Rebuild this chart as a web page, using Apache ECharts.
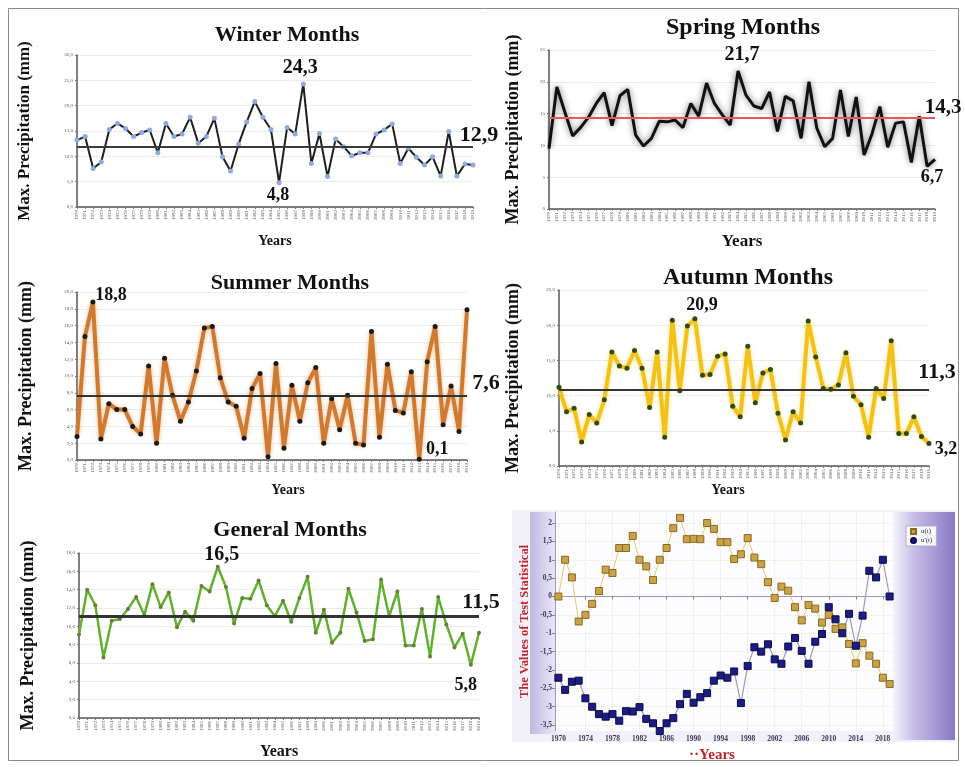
<!DOCTYPE html>
<html><head><meta charset="utf-8">
<script src="https://cdn.jsdelivr.net/npm/echarts@6/dist/echarts.min.js"></script>
<style>html,body{margin:0;padding:0;background:#fff}#c{width:965px;height:767px}</style>
</head><body><div id="c"></div>
<script>
// ---------- DATA ----------
const years = ['1970','1971','1972','1973','1974','1975','1976','1977','1978','1979',
 '1980','1981','1982','1983','1984','1985','1986','1987','1988','1989',
 '1990','1991','1992','1993','1994','1995','1996','1997','1998','1999',
 '2000','2001','2002','2003','2004','2005','2006','2007','2008','2009',
 '2010','2011','2012','2013','2014','2015','2016','2017','2018','2019'];

const winter = [13.2,13.9,7.6,8.9,15.3,16.5,15.5,13.9,14.7,15.2,
 10.7,16.5,13.9,14.4,17.7,12.6,13.9,17.5,9.9,7.1,
 12.4,16.8,20.8,17.7,15.3,4.8,15.7,14.4,24.3,8.6,
 14.5,6.0,13.4,11.9,10.1,10.7,10.7,14.4,15.2,16.4,
 8.6,11.6,9.8,8.3,9.9,6.1,14.9,6.1,8.5,8.3];
const spring = [9.5,19.2,15.3,11.5,12.8,14.4,16.6,18.3,13.1,17.8,
 18.8,11.6,9.9,11.1,13.8,13.7,14.0,12.8,16.6,14.6,
 19.8,16.6,14.8,13.2,21.7,17.9,16.2,15.8,18.4,12.2,
 17.7,17.0,11.1,20.0,12.7,9.8,11.1,18.7,11.4,17.6,
 8.5,11.8,16.1,9.7,13.5,13.7,7.3,14.6,6.7,7.8];
const summer = [2.8,14.7,18.8,2.5,6.7,6.0,6.0,4.0,3.1,11.2,
 2.0,12.1,7.7,4.6,6.9,10.6,15.7,15.9,9.8,6.9,
 6.4,2.6,8.5,10.3,0.4,11.5,1.4,8.9,4.6,9.2,
 11.0,2.0,7.3,3.6,7.7,2.0,1.8,15.3,2.7,11.4,
 5.9,5.6,10.5,0.1,11.7,15.9,4.2,8.8,3.4,17.9];
const autumn = [11.2,7.7,8.2,3.4,7.3,6.1,9.4,16.2,14.2,13.9,
 16.4,13.9,8.3,16.2,4.1,20.7,10.7,19.9,20.9,12.9,
 13.0,15.6,15.9,8.5,7.0,17.0,9.0,13.2,13.7,7.5,
 3.7,7.7,6.1,20.6,15.5,11.0,10.9,11.5,16.1,9.9,
 8.7,4.1,11.0,9.6,17.8,4.6,4.6,7.0,4.2,3.2];
const general = [9.1,14.0,12.3,6.6,10.6,10.8,11.9,13.2,11.2,14.6,
 12.1,13.7,9.9,11.6,10.6,14.4,13.8,16.5,14.3,10.3,
 13.1,13.0,15.0,12.3,11.1,12.8,10.5,13.1,15.4,9.3,
 11.8,8.2,9.3,14.1,11.5,8.4,8.6,15.1,11.1,13.8,
 7.9,7.9,11.9,6.7,13.2,10.2,7.7,9.2,5.8,9.3];

// mean reference lines (as drawn) and their printed labels
const meanLines = [11.8, 14.3, 7.6, 10.9, 11.1];
const meanLabels = ['12,9', '14,3', '7,6', '11,3', '11,5'];

// Mann-Kendall panel
const mkYears = [1970,1971,1972,1973,1974,1975,1976,1977,1978,1979,
 1980,1981,1982,1983,1984,1985,1986,1987,1988,1989,
 1990,1991,1992,1993,1994,1995,1996,1997,1998,1999,
 2000,2001,2002,2003,2004,2005,2006,2007,2008,2009,
 2010,2011,2012,2013,2014,2015,2016,2017,2018,2019];
const uT = [0.0,1.0,0.52,-0.68,-0.5,-0.2,0.15,0.73,0.64,1.32,
 1.32,1.65,1.0,0.82,0.45,1.0,1.32,1.86,2.14,1.56,
 1.57,1.56,2.0,1.84,1.48,1.48,1.02,1.15,1.59,1.06,
 0.88,0.39,-0.04,0.27,0.16,-0.29,-0.65,-0.23,-0.33,-0.71,
 -0.5,-0.88,-0.84,-1.29,-1.82,-1.27,-1.61,-1.83,-2.21,-2.38];
const uPrimeT = [-2.21,-2.54,-2.32,-2.29,-2.77,-3.0,-3.2,-3.27,-3.2,-3.38,
 -3.12,-3.13,-3.01,-3.33,-3.45,-3.66,-3.45,-3.31,-2.93,-2.65,
 -2.89,-2.74,-2.63,-2.29,-2.15,-2.21,-2.04,-2.9,-1.89,-1.38,
 -1.5,-1.3,-1.71,-1.83,-1.36,-1.13,-1.48,-1.83,-1.23,-1.02,
 -0.29,-0.62,-1.0,-0.47,-1.34,-0.52,0.7,0.52,1.0,0.0];
const mkXTicks = [1970,1974,1978,1982,1986,1990,1994,1998,2002,2006,2010,2014,2018];
const mkYTicks = [-3.5,-3,-2.5,-2,-1.5,-1,-0.5,0,0.5,1,1.5,2];

// ---------- CHART ----------
const SERIF = '"Liberation Serif", "Times New Roman", serif';
const comma = (v, d) => v.toFixed(d).replace('.', ',');

const panels = [
 { title:'Winter Months', tx:287, ty:35, tsize:22, data:winter,
   grid:{left:77, top:55, width:396, height:152}, yMax:30, yInt:5, dec:1,
   line:{color:'#1e1e1e', width:2}, sym:{size:5, color:'#8eaae0'},
   mean:{color:'#3a3a3a', width:2},
   yGap:44, ySize:17, xGap:27, xSize:14, xPad:[0,0,0,0],
   ann:{max:[-3,-16,20], min:[-1,13,18], mean:[6,-12,22]} },
 { title:'Spring Months', tx:743, ty:28, tsize:24, data:spring,
   grid:{left:549, top:50, width:386, height:159}, yMax:25, yInt:5, dec:0,
   line:{color:'#111', width:3, shadowColor:'rgba(0,0,0,0.55)', shadowBlur:6}, sym:null,
   mean:{color:'#e25a5a', width:2},
   yGap:27, ySize:18, xGap:24, xSize:17, xPad:[0,0,0,0],
   ann:{max:[4,-16,20], min:[5,11,18], mean:[8,-10,21]} },
 { title:'Summer Months', tx:290, ty:283, tsize:22, data:summer,
   grid:{left:77, top:292, width:390, height:168}, yMax:20, yInt:2, dec:1,
   line:{color:'#cf7a33', width:4, shadowColor:'rgba(235,150,70,0.6)', shadowBlur:4}, sym:{size:5, color:'#1a1a1a'},
   mean:{color:'#333', width:2},
   yGap:42, ySize:18, xGap:23, xSize:14, xPad:[0,0,0,32],
   ann:{max:[18,-7,18], min:[18,-10,18], mean:[19,-13,22]} },
 { title:'Autumn Months', tx:748, ty:278, tsize:24, data:autumn,
   grid:{left:559, top:290, width:370, height:176}, yMax:25, yInt:5, dec:1,
   line:{color:'#f2c21b', width:4, shadowColor:'rgba(250,210,60,0.6)', shadowBlur:4}, sym:{size:5, color:'#2f4a1a'},
   mean:{color:'#333', width:2},
   yGap:37, ySize:18, xGap:17, xSize:14, xPad:[0,32,0,0],
   ann:{max:[7,-14,18], min:[17,6,18], mean:[8,-17,22]} },
 { title:'General Months', tx:290, ty:530, tsize:22, data:general,
   grid:{left:79, top:553, width:400, height:165}, yMax:18, yInt:2, dec:1,
   line:{color:'#62b02f', width:2.5}, sym:{size:4, color:'#6b7d3a'},
   mean:{color:'#333', width:3},
   yGap:42, ySize:18, xGap:26, xSize:16, xPad:[0,0,0,0],
   ann:{max:[4,-12,20], min:[-5,21,18], mean:[2,-14,22]} }
];

const grids = [], xAxes = [], yAxes = [], series = [];
const graphics = [];

// MK panel backgrounds
graphics.push({type:'rect', z:-10, shape:{x:512, y:510, width:443, height:232}, style:{fill:'#f2f1fa'}});
graphics.push({type:'rect', z:-9, shape:{x:530, y:512, width:25, height:222},
  style:{fill:new echarts.graphic.LinearGradient(0,0,1,0,[{offset:0,color:'#bfb8e4'},{offset:1,color:'#e9e7f7'}])}});
graphics.push({type:'rect', z:-9, shape:{x:893, y:512, width:62, height:228},
  style:{fill:new echarts.graphic.LinearGradient(0,0,1,0,[{offset:0,color:'#f4f3fb'},{offset:0.35,color:'#c5bce6'},{offset:1,color:'#8877c6'}])}});
// outer frame
graphics.push({type:'rect', z:-20, shape:{x:8.5, y:8.5, width:950, height:752}, style:{fill:'none', stroke:'#8a8a8a', lineWidth:1}});

panels.forEach((p, i) => {
  grids.push(Object.assign({show:false, outerBoundsMode:'none', containLabel:false}, p.grid));
  graphics.push({type:'text', x:p.tx, y:p.ty, z:10,
    style:{text:p.title, font:'bold ' + p.tsize + 'px ' + SERIF, fill:'#111', align:'center', verticalAlign:'middle', textAlign:'center', textVerticalAlign:'middle'}});
  xAxes.push({type:'category', gridIndex:i, data:years, boundaryGap:false,
    axisLine:{show:true, lineStyle:{color:'#555', width:1.5}},
    axisTick:{show:true, interval:0, length:2, lineStyle:{color:'#777'}},
    axisLabel:{interval:0, rotate:90, fontSize:5, color:'#555', margin:3, fontFamily:SERIF},
    splitLine:{show:false},
    name:'Years', nameLocation:'middle', nameGap:p.xGap,
    nameTextStyle:{fontFamily:SERIF, fontWeight:'bold', fontSize:p.xSize, color:'#111', padding:p.xPad}});
  yAxes.push({type:'value', gridIndex:i, min:0, max:p.yMax, interval:p.yInt,
    axisLine:{show:true, lineStyle:{color:'#555', width:1.5}},
    axisTick:{show:true, length:2, lineStyle:{color:'#777'}},
    axisLabel:{fontSize:5, color:'#555', margin:4, fontFamily:SERIF, formatter:v => comma(v, p.dec)},
    splitLine:{show:true, lineStyle:{color:'#ebebeb', width:1}},
    name:'Max. Precipitation (mm)', nameLocation:'middle', nameGap:p.yGap,
    nameTextStyle:{fontFamily:SERIF, fontWeight:'bold', fontSize:p.ySize, color:'#111'}});

  const d = p.data;
  const mx = Math.max(...d), mn = Math.min(...d);
  const iMax = d.indexOf(mx), iMin = d.indexOf(mn), iLast = d.length - 1;
  const annLabel = (txt, a) => ({show:true, position:'inside', formatter:txt, offset:[a[0], a[1]],
     fontSize:a[2], fontFamily:SERIF, fontWeight:'bold', color:'#111'});
  series.push({
    type:'line', xAxisIndex:i, yAxisIndex:i, data:d, animation:false, z:3,
    symbol: p.sym ? 'circle' : 'none', symbolSize: p.sym ? p.sym.size : 0, showSymbol: !!p.sym,
    itemStyle:{color: p.sym ? p.sym.color : p.line.color},
    lineStyle:p.line,
    emphasis:{disabled:true},
    markLine:{silent:true, symbol:'none', animation:false, label:{show:false},
      lineStyle:{color:p.mean.color, width:p.mean.width, type:'solid'}, data:[{yAxis:meanLines[i]}]},
    markPoint:{silent:true, animation:false, symbol:'circle', symbolSize:1, itemStyle:{color:'rgba(0,0,0,0)'},
      data:[
        {coord:[iMax, mx], label:annLabel(comma(mx,1), p.ann.max)},
        {coord:[iMin, mn], label:annLabel(comma(mn,1), p.ann.min)},
        {coord:[iLast, meanLines[i]], label:annLabel(meanLabels[i], p.ann.mean)}
      ]}
  });
});

// Mann-Kendall panel (index 5)
grids.push({left:555, top:512, width:338, height:219, show:true, backgroundColor:'#fdfdff', borderWidth:0, outerBoundsMode:'none', containLabel:false});
xAxes.push({type:'value', gridIndex:5, min:1969.5, max:2019.5, minInterval:1, maxInterval:1,
  axisLine:{show:true, lineStyle:{color:'#9a98b8', width:1}},
  axisTick:{show:true, customValues:mkXTicks, length:3, lineStyle:{color:'#888'}},
  axisLabel:{customValues:mkXTicks, formatter:v => String(v), fontSize:7.5, color:'#3a3a5a', margin:4, fontFamily:SERIF, fontWeight:'bold'},
  splitLine:{show:true, lineStyle:{color:'#ece8d6', type:'dotted', width:1}},
  name:'··Years', nameLocation:'middle', nameGap:17,
  nameTextStyle:{fontFamily:SERIF, fontWeight:'bold', fontSize:15, color:'#c0262c', padding:[0,24,0,0]}});
yAxes.push({type:'value', gridIndex:5, min:-3.66, max:2.3, minInterval:0.5, maxInterval:0.5,
  axisLine:{show:true, lineStyle:{color:'#9a98b8', width:1}},
  axisTick:{show:true, customValues:mkYTicks, length:3, lineStyle:{color:'#888'}},
  axisLabel:{customValues:mkYTicks, formatter:v => String(v).replace('.', ','), fontSize:7.5, color:'#3a3a5a', margin:3, fontFamily:SERIF, fontWeight:'bold'},
  splitLine:{show:true, lineStyle:{color:'#ece8d6', type:'dotted', width:1}},
  name:'The Values of Test Statistical', nameLocation:'middle', nameGap:24,
  nameTextStyle:{fontFamily:SERIF, fontWeight:'bold', fontSize:12.5, color:'#c0262c'}});

series.push({type:'line', name:'u(t)', xAxisIndex:5, yAxisIndex:5, animation:false,
  data: mkYears.map((y, k) => [y, uT[k]]),
  symbol:'rect', symbolSize:7,
  itemStyle:{color:'#c9a24a', borderColor:'#8a6a20', borderWidth:1},
  lineStyle:{color:'#e6c878', width:1}, emphasis:{disabled:true}, z:4});
series.push({type:'line', name:"u'(t)", xAxisIndex:5, yAxisIndex:5, animation:false,
  data: mkYears.map((y, k) => [y, uPrimeT[k]]),
  symbol:'rect', symbolSize:7,
  itemStyle:{color:'#1d1d80', borderColor:'#0a0a50', borderWidth:1},
  lineStyle:{color:'#9a9abb', width:1.2}, emphasis:{disabled:true}, z:4});

const chart = echarts.init(document.getElementById('c'), null, {renderer:'canvas'});
chart.setOption({
  animation:false,
  backgroundColor:'#ffffff',
  grid:grids, xAxis:xAxes, yAxis:yAxes, series:series,
  legend:{show:true, orient:'vertical', left:906, top:526, itemWidth:5, itemHeight:5, itemGap:2,
    padding:[2,4], backgroundColor:'#f8f8fc', borderColor:'#b0b0c8', borderWidth:1,
    textStyle:{fontSize:7, fontFamily:SERIF, color:'#333'},
    data:[{name:'u(t)', icon:'rect'}, {name:"u'(t)", icon:'circle'}]},
  graphic:graphics
});
</script></body></html>
